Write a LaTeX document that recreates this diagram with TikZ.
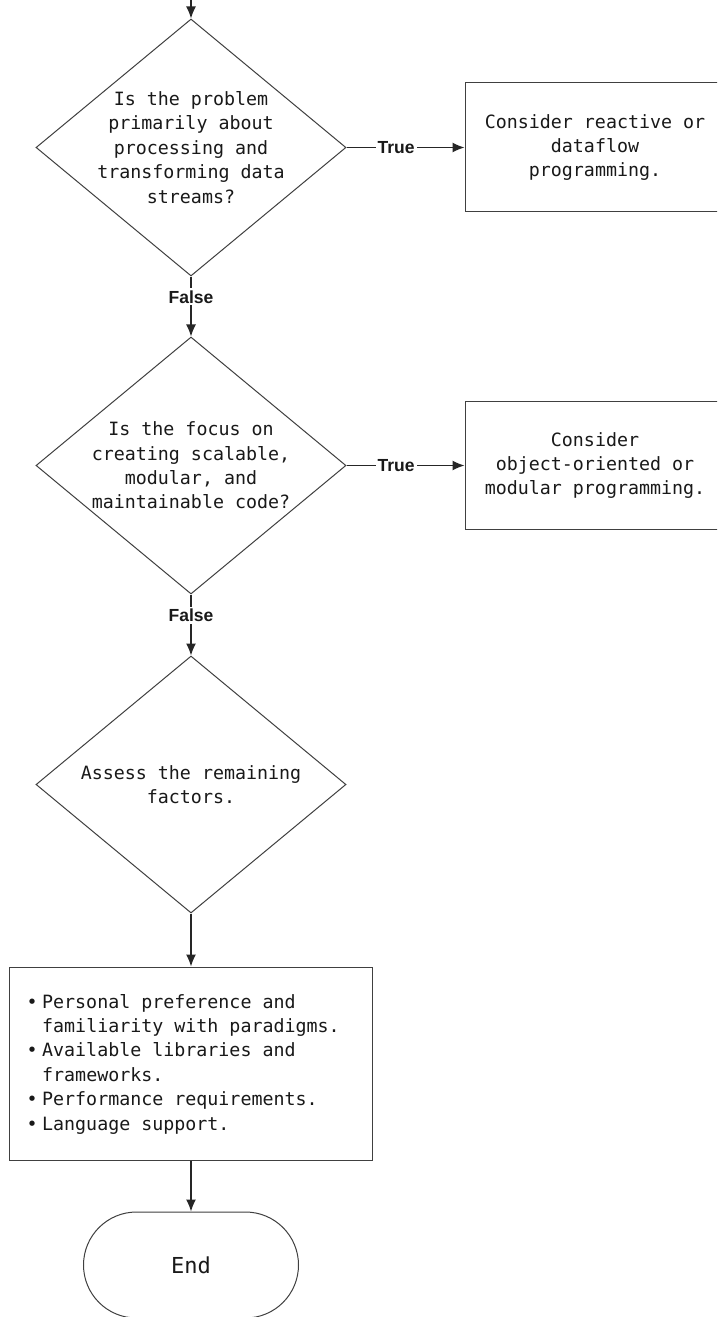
\documentclass[tikz,border=0pt]{standalone}
\usepackage{fontspec}
\setmonofont{DejaVu Sans Mono}
\newfontfamily\labfont{Liberation Sans}
\usetikzlibrary{shapes.geometric,shapes.misc,arrows.meta}
\begin{document}
\begin{tikzpicture}[x=1bp,y=-1bp,
  dia/.style={draw=black!75, line width=1bp, diamond, minimum width=310bp, minimum height=257bp, inner sep=0pt},
  txt/.style={font=\ttfamily\fontsize{18.3bp}{24.4bp}\selectfont, text=black!90, align=center},
  boxst/.style={draw=black!75, line width=1bp, minimum width=260bp, minimum height=129bp, inner sep=0pt},
  lab/.style={font=\labfont\bfseries\fontsize{17.5bp}{20bp}\selectfont, fill=white, inner sep=2bp, text=black!90},
  arr/.style={draw=black!85, line width=1.3bp, -{Latex[length=12bp,width=10bp]}},
  term/.style={draw=black!75, line width=1bp, rounded rectangle, minimum width=215bp, minimum height=106bp, inner sep=0pt, font=\ttfamily\fontsize{22bp}{26bp}\selectfont, text=black!90}
]
\clip (0,0) rectangle (717,1317);
\fill[white] (0,0) rectangle (717,1317);
\node[dia] (d1) at (191,147.5) {};
\node[txt] (t1) at (d1.center) {Is the problem\\primarily about\\processing and\\transforming data\\streams?};
\node[boxst, txt] (b1) at (595,147.5) {Consider reactive or\\dataflow\\programming.};
\node[dia] (d2) at (191,465.5) {};
\node[txt] (t2) at (d2.center) {Is the focus on\\creating scalable,\\modular, and\\maintainable code?};
\node[boxst, txt, minimum height=128bp] (b2) at (595,465.5) {Consider\\object-oriented or\\modular programming.};
\node[dia] (d3) at (191,784.5) {};
\node[txt] (t3) at (d3.center) {Assess the remaining\\factors.};
\node[draw=black!75, line width=1bp, minimum width=362bp, minimum height=193bp, inner sep=0pt] (b3) at (191,1063.5) {};
\node[txt, align=left, anchor=west, inner sep=0pt] (t4) at (26.5,1064) {\makebox[15.5bp][l]{•}Personal preference and\\
\hspace*{15.5bp}familiarity with paradigms.\\
\makebox[15.5bp][l]{•}Available libraries and\\
\hspace*{15.5bp}frameworks.\\
\makebox[15.5bp][l]{•}Performance requirements.\\
\makebox[15.5bp][l]{•}Language support.};
\node[term] (e) at (191,1265) {End};
\coordinate (top) at (191,0);
\draw[arr] (top) -- (d1.north);
\draw[arr] (d1.east) -- node[lab,pos=0.42]{True} (b1.west);
\draw[arr] (d1.south) -- node[lab,pos=0.34]{False} (d2.north);
\draw[arr] (d2.east) -- node[lab,pos=0.42]{True} (b2.west);
\draw[arr] (d2.south) -- node[lab,pos=0.34]{False} (d3.north);
\draw[arr] (d3.south) -- (b3.north);
\draw[arr] (b3.south) -- (e.north);
\end{tikzpicture}
\end{document}
